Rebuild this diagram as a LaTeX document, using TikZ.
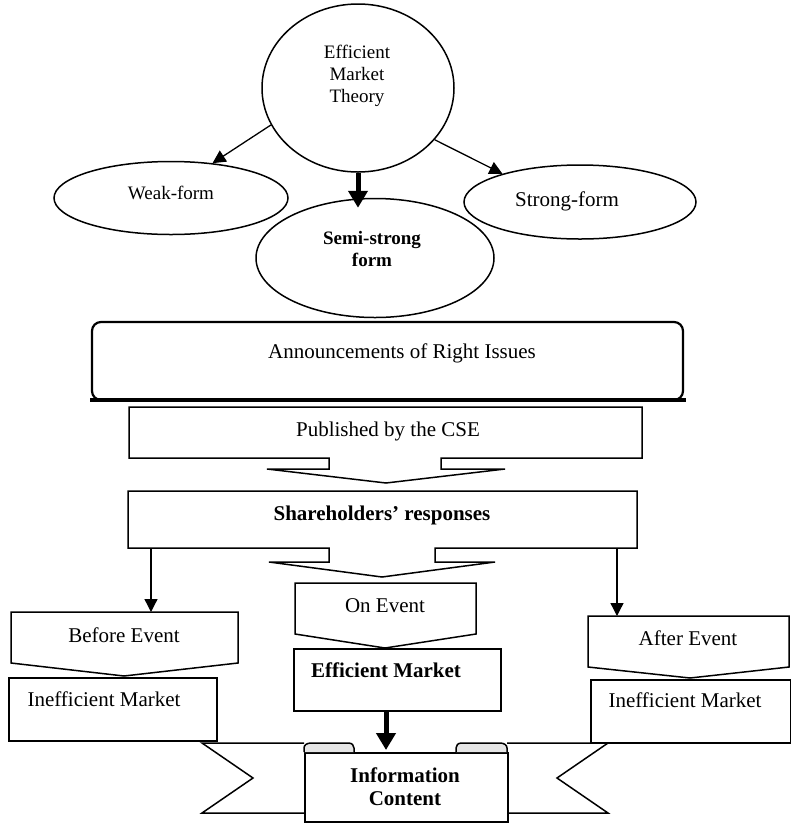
\documentclass[tikz,border=0pt]{standalone}
\usepackage{fontspec}
\setmainfont{Liberation Serif}
\usetikzlibrary{arrows.meta,shapes.geometric}
\begin{document}
\begin{tikzpicture}[x=1pt,y=-1pt,
  outl/.style={line width=1.5pt, line join=miter},
  ell/.style={ellipse, draw, line width=1.5pt, inner sep=0pt, fill=white},
  txt/.style={inner sep=0pt, anchor=base, font=\fontsize{21}{24}\selectfont},
  stxt/.style={inner sep=0pt, anchor=base, font=\fontsize{19}{22}\selectfont},
  btxt/.style={inner sep=0pt, anchor=base, font=\fontsize{21}{24}\selectfont\bfseries},
  thinarr/.style={line width=1.3pt, -{Triangle[length=13pt,width=13pt]}},
  thickarr/.style={line width=5pt, -{Triangle[length=17pt,width=19pt]}},
]
\useasboundingbox (0,0) rectangle (791,823);

% ---- ellipses ----
\node[ell, minimum width=192pt, minimum height=168pt] (big) at (358,88) {};
\node[ell, minimum width=234pt, minimum height=73pt] (weak) at (171,198) {};
\node[ell, minimum width=232pt, minimum height=74pt] (strong) at (580,202) {};
\node[ell, minimum width=238pt, minimum height=119pt] (semi) at (375,258) {};

\node[stxt] (tb1) at (357,58) {Efficient};
\node[stxt] (tb2) at (357,80) {Market};
\node[stxt] (tb3) at (357,102) {Theory};
\node[stxt] (tweak) at (171,199) {Weak-form};
\node[txt] (tstrong) at (567,206) {Strong-form};
\node[stxt, font=\fontsize{19}{22}\selectfont\bfseries] (tsemi1) at (372,244) {Semi-strong};
\node[stxt, font=\fontsize{19}{22}\selectfont\bfseries] (tsemi2) at (372,266) {form};

\draw[thinarr] (big.203) -- (weak.40);
\draw[thinarr] (big.326) -- (strong.160);
\draw[thickarr, shorten >=-10pt] (big.south) -- (big.south |- semi.north);

% ---- announcements ----
\draw[line width=2.2pt, rounded corners=9pt] (92,322) rectangle (683,400);
\draw[line width=4pt] (90,400) -- (686,400);
\node[txt] (ann) at (402,358) {Announcements of Right Issues};

% ---- published by the CSE ----
\draw[outl] (129,407) -- (642,407) -- (642,458) -- (441,458) -- (441,469)
  -- (505,469) -- (386,483) -- (267,469) -- (329,469) -- (329,458) -- (129,458) -- cycle;
\node[txt] (pub) at (388,436) {Published by the CSE};

% ---- shareholders ----
\draw[outl] (128,491) -- (637,491) -- (637,548) -- (435,548) -- (435,562)
  -- (495,562) -- (382,577) -- (269,562) -- (329,562) -- (329,548) -- (128,548) -- cycle;
\node[btxt] (sh) at (382,520) {Shareholders’ responses};

% ---- on event / efficient market ----
\draw[outl] (295,583) -- (476,583) -- (476,634) -- (385,648) -- (295,634) -- cycle;
\node[txt] (on) at (385,612) {On Event};
\node[draw, outl, inner sep=0pt, minimum width=207pt, minimum height=62pt, anchor=north west] (effbox) at (293,648) {};
\node[btxt] (eff) at (386,677) {Efficient Market};

% ---- before event / inefficient ----
\node[draw, outl, inner sep=0pt, minimum width=208pt, minimum height=63pt, anchor=north west] (inefL) at (8,677) {};
\draw[outl, fill=white] (11,612) -- (238,612) -- (238,663) -- (124,676) -- (11,663) -- cycle;
\node[txt] (before) at (124,642) {Before Event};
\node[txt] (tinefL) at (104,706) {Inefficient Market};

% ---- after event / inefficient ----
\node[draw, outl, inner sep=0pt, minimum width=200pt, minimum height=63pt, anchor=north west] (inefR) at (590,679) {};
\draw[outl, fill=white] (588,616) -- (789,616) -- (789,667) -- (690,678) -- (588,667) -- cycle;
\node[txt] (after) at (688,645) {After Event};
\node[txt] (tinefR) at (685,707) {Inefficient Market};

% ---- connectors from shareholders ----
\coordinate (shBL) at (151,548);
\coordinate (beT) at (151,612);
\coordinate (shBR) at (617,548);
\coordinate (afT) at (617,616);
\draw[thinarr] (shBL) -- (beT);
\draw[thinarr] (shBR) -- (afT);

% ---- banner ----
\draw[outl, fill=white] (304,743) -- (202,743) -- (253,778) -- (202,813) -- (304,813);
\draw[outl, fill=white] (507,743) -- (608,743) -- (557,778) -- (608,813) -- (507,813);
\node[draw, outl, fill=white, inner sep=0pt, minimum width=203pt, minimum height=69pt, anchor=north west] (info) at (304,752) {};
\draw[outl, fill=gray!20] (304,752) -- (304,748) .. controls (304,745) and (307,743) .. (311,743)
  -- (348,743) .. controls (352,743) and (354,745) .. (354,748) -- (354,752);
\draw[outl, fill=gray!20] (456,752) -- (456,748) .. controls (456,745) and (458,743) .. (462,743)
  -- (500,743) .. controls (504,743) and (507,745) .. (507,748) -- (507,752);
\node[btxt] (ti1) at (405,782) {Information};
\node[btxt] (ti2) at (405,805) {Content};

\coordinate (emB) at (386,710);
\coordinate (icT) at (386,750);
\draw[thickarr] (emB) -- (icT);
\end{tikzpicture}
\end{document}
